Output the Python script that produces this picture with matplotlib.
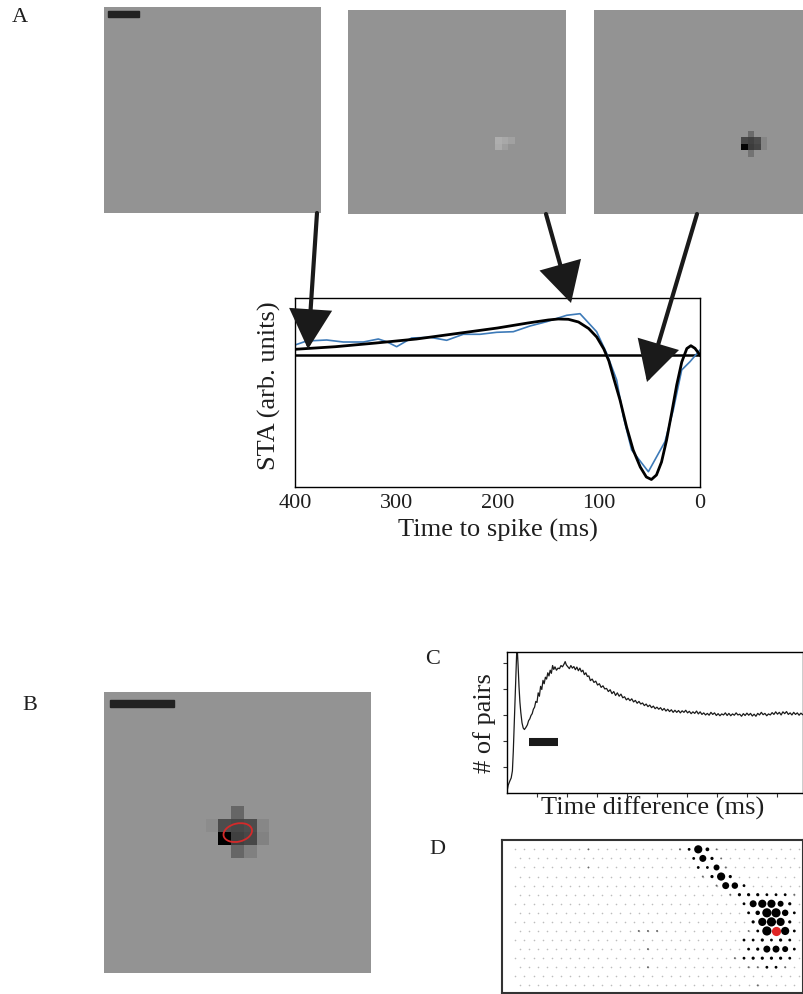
import numpy as np
import matplotlib
matplotlib.use('Agg')
import matplotlib.pyplot as plt
from matplotlib.patches import Rectangle, Ellipse, FancyArrowPatch

plt.rcParams['font.family'] = ['Liberation Serif', 'DejaVu Serif']

# ---------------- data ----------------
# A: stimulus frames (grey level 0..1), background + notable pixels
bg_grey = 0.58
a2_rows = [20, 20, 20, 21, 21]
a2_cols = [23, 24, 25, 23, 24]
a2_vals = [0.68, 0.66, 0.63, 0.67, 0.62]
a3_rows = [19, 20, 20, 20, 21, 21, 21, 22, 20, 21]
a3_cols = [24, 23, 24, 25, 23, 24, 25, 24, 26, 26]
a3_vals = [0.42, 0.28, 0.26, 0.30, 0.02, 0.24, 0.27, 0.45, 0.52, 0.52]

# A: spike triggered average, blue = measured, black = fit
sta_t = [400, 388.5, 368.7, 352.3, 332.5, 317.7, 309.5, 299.6, 284.8, 266.7, 250.2,
         233.8, 217.3, 200.8, 184.4, 167.9, 151.5, 131.7, 118.5, 102.1, 92.2, 82.3,
         75.7, 67.5, 51.0, 34.6, 26.4, 18.1, 9.9, 0]
sta_v = [0.10, 0.14, 0.15, 0.13, 0.13, 0.16, 0.133, 0.083, 0.17, 0.177, 0.147,
         0.207, 0.207, 0.227, 0.233, 0.29, 0.333, 0.397, 0.413, 0.233, 0.017, -0.25,
         -0.617, -0.95, -1.167, -0.867, -0.55, -0.15, -0.067, 0.05]
fit_t = [400, 360, 320, 280, 240, 200, 170, 150, 140, 130, 120, 110, 102, 95, 90, 85,
         79, 72.5, 66, 59, 53, 48, 43, 38, 33, 28, 23, 18, 13, 9, 5, 0]
fit_v = [0.057, 0.083, 0.12, 0.16, 0.215, 0.27, 0.32, 0.35, 0.36, 0.357, 0.33, 0.265,
         0.18, 0.06, -0.06, -0.24, -0.45, -0.72, -0.95, -1.12, -1.22, -1.245, -1.2,
         -1.07, -0.85, -0.58, -0.30, -0.07, 0.065, 0.093, 0.067, 0.0]
sta_ticks = [400, 300, 200, 100, 0]

# B: receptive field, 22 x 21 pixels
b_rows = [9, 10, 10, 10, 11, 11, 11, 12, 12, 10, 11, 10]
b_cols = [10, 9, 10, 11, 9, 10, 11, 10, 11, 12, 12, 8]
b_vals = [0.40, 0.30, 0.28, 0.30, 0.0, 0.25, 0.28, 0.40, 0.50, 0.53, 0.51, 0.55]
rf_center = (10.52, 11.02)
rf_width, rf_height, rf_angle = 2.28, 1.42, -13

# C: histogram of spike time differences
c_t = [0.0, 0.4, 0.9, 1.4, 1.8, 2.1, 2.4, 2.8, 3.2, 3.4, 3.7, 4.0, 4.3, 4.6, 5.0, 5.4,
       5.8, 6.3, 6.8, 7.2, 7.6, 8.0, 8.4, 8.8, 9.2, 9.6, 10.0, 10.4, 10.8, 11.2, 11.6,
       12.0, 12.4, 12.8, 13.2, 13.6, 14.0, 14.4, 14.8, 15.2, 15.6, 16.0, 16.5, 17.0,
       17.5, 18.0, 18.5, 19.0, 19.4, 19.8, 20.3, 20.8, 21.3, 21.8, 22.3, 22.8, 23.3,
       23.8, 24.3, 24.8, 25.3, 25.8, 26.3, 26.8, 27.3, 27.8, 28.4, 29.0, 29.6, 30.2,
       30.8, 31.4, 32.0, 32.6, 33.2, 33.8, 34.4, 35.0, 35.6, 36.2, 36.8, 37.4, 38.0,
       38.6, 39.2, 39.8, 40.4, 41.0, 41.6, 42.2, 42.8, 43.4, 44.0, 44.6, 45.2, 45.8,
       46.4, 47.0, 47.6, 48.2, 48.8, 49.4, 50.0, 50.6, 51.2, 51.8, 52.4, 53.0, 53.6,
       54.2, 54.8, 55.4, 56.0, 56.6, 57.2, 57.8, 58.4, 59.0, 59.6, 60.2, 60.8, 61.4,
       62.0, 62.6, 63.2, 63.8, 64.4, 65.0, 65.6, 66.2, 66.8, 67.4, 68.0, 68.6, 69.2,
       69.8, 70.4, 71.0, 71.6, 72.2, 72.8, 73.4, 74.0, 74.6, 75.2, 75.8, 76.4, 77.0,
       77.6, 78.2, 78.8, 79.4, 80.0, 80.6, 81.2, 81.8, 82.4, 83.0, 83.6, 84.2, 84.8,
       85.4, 86.0, 86.6, 87.2, 87.8, 88.4, 89.0, 89.6, 90.2, 90.8, 91.4, 92.0, 92.6,
       93.2, 93.8, 94.4, 95.0, 95.6, 96.2, 96.8, 97.4, 98.0, 98.6, 99.2]
c_n = [0.06, 0.30, 0.45, 0.58, 0.85, 1.6, 2.6, 4.0, 5.3, 5.6, 4.9, 4.1, 3.5, 3.1, 2.7,
       2.5, 2.44, 2.52, 2.62, 2.78, 2.85, 2.98, 3.05, 3.22, 3.30, 3.52, 3.48, 3.85,
       3.72, 4.10, 3.98, 4.33, 4.20, 4.45, 4.38, 4.62, 4.50, 4.72, 4.60, 4.90, 4.75,
       4.85, 4.72, 4.80, 4.78, 4.90, 4.85, 4.95, 5.05, 4.92, 4.85, 4.78, 4.90, 4.80,
       4.86, 4.74, 4.84, 4.70, 4.80, 4.66, 4.72, 4.55, 4.62, 4.48, 4.50, 4.32, 4.38,
       4.25, 4.30, 4.15, 4.20, 4.06, 4.12, 4.00, 4.02, 3.90, 3.97, 3.82, 3.90, 3.75,
       3.85, 3.72, 3.80, 3.66, 3.70, 3.58, 3.64, 3.55, 3.62, 3.50, 3.56, 3.45, 3.52,
       3.42, 3.46, 3.36, 3.42, 3.32, 3.38, 3.28, 3.34, 3.24, 3.30, 3.22, 3.28, 3.18,
       3.25, 3.15, 3.22, 3.13, 3.20, 3.10, 3.18, 3.10, 3.17, 3.08, 3.16, 3.10, 3.18,
       3.08, 3.14, 3.05, 3.12, 3.06, 3.15, 3.04, 3.12, 3.02, 3.08, 3.00, 3.06, 2.99,
       3.10, 3.02, 3.08, 2.98, 3.05, 2.97, 3.04, 3.00, 3.08, 2.98, 3.06, 2.97, 3.04,
       2.99, 3.08, 3.00, 3.03, 2.95, 3.05, 2.98, 3.07, 2.99, 3.06, 2.96, 3.03, 2.95,
       3.06, 3.00, 3.10, 3.01, 3.06, 2.97, 3.04, 3.00, 3.09, 3.02, 3.12, 3.03, 3.10,
       3.00, 3.12, 3.05, 3.13, 3.02, 3.08, 3.00, 3.10, 3.02, 3.08, 2.99, 3.07, 3.01,
       3.05]
c_bar = ([7.3, 17.1], [1.96, 1.96])

# D: electrode array (16 rows x 32 cols, odd rows shifted half a column)
n_rows, n_cols = 16, 32
dot_rows = [0, 0, 0, 0, 0, 0,
            1, 1, 1, 1,
            2, 2, 2, 2, 2,
            3, 3, 3, 3,
            4, 4, 4, 4,
            5, 5, 5, 5, 5, 5, 5, 5,
            6, 6, 6, 6, 6, 6,
            7, 7, 7, 7, 7, 7,
            8, 8, 8, 8, 8,
            9, 9, 9, 9, 9, 9, 9, 9,
            10, 10, 10, 10, 10, 10,
            11, 11, 11, 11, 11, 11, 11,
            12, 12, 12, 12, 12, 12, 12,
            13, 13, 13, 13, 13, 13,
            15]
dot_cols = [8, 18, 19, 20, 21, 22,
            19, 20, 21, 22,
            8, 20, 21, 22, 23,
            20, 21, 22, 23,
            22, 23, 24, 25,
            23, 24, 25, 26, 27, 28, 29, 30,
            25, 26, 27, 28, 29, 30,
            25, 26, 27, 28, 29, 30,
            26, 27, 28, 29, 30,
            13, 14, 15, 25, 26, 27, 29, 30,
            25, 26, 27, 28, 29, 30,
            14, 25, 26, 27, 28, 29, 30,
            24, 25, 26, 27, 28, 29, 30,
            14, 25, 26, 27, 28, 29,
            26]
dot_diam = [1.8, 2.0, 2.8, 8.2, 3.8, 1.8,
            2.8, 7.0, 3.2, 1.8,
            1.8, 2.8, 2.8, 6.0, 2.0,
            2.0, 3.2, 8.2, 3.2,
            2.0, 7.0, 6.5, 2.8,
            2.0, 3.2, 3.2, 3.2, 2.8, 2.8, 2.8, 2.0,
            2.8, 7.0, 8.2, 8.2, 6.0, 3.2,
            2.8, 4.5, 9.2, 9.2, 6.5, 2.8,
            3.2, 8.2, 9.2, 8.2, 3.2,
            2.0, 2.0, 2.0, 1.8, 2.8, 9.2, 8.2, 2.8,
            2.8, 2.8, 3.2, 2.8, 3.2, 2.8,
            2.0, 2.8, 3.2, 7.0, 7.0, 6.0, 2.8,
            2.0, 2.8, 3.2, 3.2, 3.2, 3.2, 2.8,
            2.0, 2.0, 2.0, 2.8, 2.8, 2.0,
            2.0]
red_row, red_col, red_diam = 9, 28, 9.2

# ---------------- figure ----------------
W, H = 804, 994
fig = plt.figure(figsize=(W / 100, H / 100), dpi=100)
txt_color = '#1e1e1e'


def px_axes(x0, y0, x1, y1):
    return fig.add_axes([x0 / W, 1 - y1 / H, (x1 - x0) / W, (y1 - y0) / H])


def fig_xy(x, y):
    return x / W, 1 - y / H


def grey_image(ax, shape, rows, cols, vals):
    img = np.full(shape, bg_grey)
    for r, c, v in zip(rows, cols, vals):
        img[r, c] = v
    ax.imshow(img, cmap='gray', vmin=0, vmax=1, interpolation='nearest',
              aspect='auto', extent=(0, shape[1], shape[0], 0))
    ax.set_axis_off()


# A images
ax_a1 = px_axes(104, 7, 321, 213)
grey_image(ax_a1, (32, 34), [], [], [])
ax_a1.add_patch(Rectangle((0.6, 0.6), 4.9, 0.95, color='#222222'))
ax_a2 = px_axes(348, 10, 566, 214)
grey_image(ax_a2, (32, 34), a2_rows, a2_cols, a2_vals)
ax_a3 = px_axes(594, 10, 812, 214)
grey_image(ax_a3, (32, 34), a3_rows, a3_cols, a3_vals)

# STA plot
ax_sta = px_axes(295, 298, 700, 487)
ax_sta.axhline(0, color='black', lw=1.8)
ax_sta.plot(sta_t, sta_v, color='#3d7ab8', lw=1.2)
ax_sta.plot(fit_t, fit_v, color='black', lw=2.0)
ax_sta.set_xlim(400, 0)
ax_sta.set_ylim(-1.32, 0.57)
ax_sta.set_xticks(sta_ticks)
ax_sta.set_xticklabels([str(t) for t in sta_ticks])
ax_sta.set_yticks([])
ax_sta.tick_params(axis='x', length=0, pad=5, labelsize=16, labelcolor=txt_color)
for s in ax_sta.spines.values():
    s.set_linewidth(1.0)
fig.text(*fig_xy(498, 530), 'Time to spike (ms)', ha='center', va='center',
         fontsize=19, color=txt_color)
fig.text(*fig_xy(269, 386), 'STA (arb. units)', ha='center', va='center',
         rotation=90, fontsize=19, color=txt_color)

# arrows from frames to the STA curve
arrow_style = '-|>,head_length=24,head_width=13'
for (x0, y0), (x1, y1) in [((317, 213), (308, 349)),
                           ((546, 214), (571, 303)),
                           ((697, 214), (647, 382))]:
    arr = FancyArrowPatch(fig_xy(x0, y0), fig_xy(x1, y1), transform=fig.transFigure,
                          arrowstyle=arrow_style, mutation_scale=1, lw=3,
                          color='#1a1a1a', shrinkA=0, shrinkB=0, joinstyle='miter')
    fig.add_artist(arr)

# B receptive field
ax_b = px_axes(104, 691.7, 371, 973)
grey_image(ax_b, (22, 21), b_rows, b_cols, b_vals)
ax_b.add_patch(Rectangle((0.47, 0.65), 5.0, 0.55, color='#222222'))
ax_b.add_patch(Ellipse(rf_center, rf_width, rf_height, angle=rf_angle,
                       fill=False, edgecolor='#d42a2a', lw=1.3))

# C histogram
ax_c = px_axes(507, 652, 803, 793)
ax_c.plot(c_t, c_n, color='#1a1a1a', lw=0.9)
ax_c.plot(*c_bar, color='#1a1a1a', lw=5.8, solid_capstyle='butt')
ax_c.set_xlim(0, 98.7)
ax_c.set_ylim(0, 5.42)
ax_c.set_xticks(np.arange(10, 100, 10))
ax_c.set_yticks([1, 2, 3, 4, 5])
ax_c.set_xticklabels([])
ax_c.set_yticklabels([])
ax_c.tick_params(direction='out', length=3, width=0.8, color='#333333')
for s in ax_c.spines.values():
    s.set_linewidth(1.0)
fig.text(*fig_xy(653, 808), 'Time difference (ms)', ha='center', va='center',
         fontsize=19, color=txt_color)
fig.text(*fig_xy(485, 723), '# of pairs', ha='center', va='center',
         rotation=90, fontsize=19, color=txt_color)

# D electrode array
ax_d = px_axes(502, 840, 803, 993)
grid_r, grid_c = np.meshgrid(np.arange(n_rows), np.arange(n_cols), indexing='ij')
grid_x = grid_c + 0.5 * (grid_r % 2)
ax_d.scatter(grid_x.ravel(), grid_r.ravel(), s=(1.6 * 0.72) ** 2, color='#bdbdbd',
             linewidths=0)
dr = np.array(dot_rows)
dx = np.array(dot_cols) + 0.5 * (dr % 2)
dd = np.array(dot_diam)
dcol = ['#6a6a6a' if d <= 2.0 else 'black' for d in dd]
ax_d.scatter(dx, dr, s=(dd * 0.72) ** 2, c=dcol, linewidths=0)
ax_d.scatter([red_col + 0.5 * (red_row % 2)], [red_row], s=(red_diam * 0.72) ** 2,
             color='#e02424', linewidths=0)
ax_d.set_xlim(-1.45, 31.45)
ax_d.set_ylim(15.84, -1.03)
ax_d.set_xticks([])
ax_d.set_yticks([])
for s in ax_d.spines.values():
    s.set_linewidth(1.5)
    s.set_color('#333333')

# panel letters
for letter, (x, y) in zip('ABCD', [(20, 18), (30, 705), (433, 660), (437, 849)]):
    fig.text(*fig_xy(x, y), letter, ha='center', va='center', fontsize=16,
             color=txt_color)

fig.savefig('out.png', dpi=100)
